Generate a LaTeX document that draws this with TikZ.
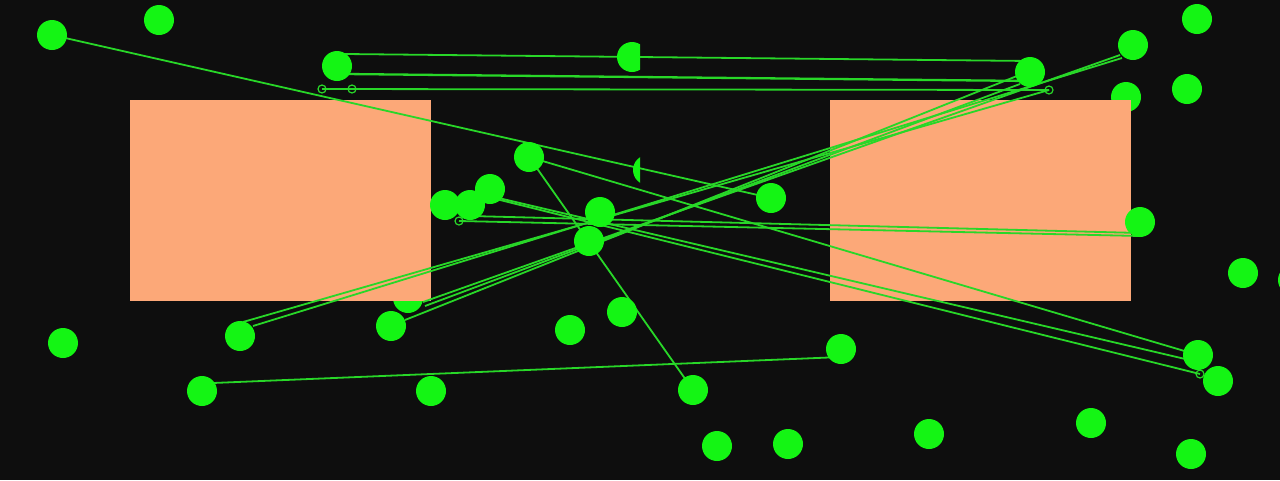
\documentclass[tikz,border=0pt]{standalone}
\definecolor{bg}{RGB}{14,14,14}
\definecolor{dotg}{RGB}{20,245,20}
\definecolor{lineg}{RGB}{40,215,40}
\definecolor{peach}{RGB}{252,168,120}
\newcommand\mylinks{%
  \draw[link] (345,54) -- (1030,61);
  \draw[link,line width=2.3pt] (345,74) -- (1030,81);
  \draw[link] (322,89) -- (1049,90);
  \draw[link] (52,35) -- (771,198);
  \draw[link] (529,157) -- (1198,355);
  \draw[link] (529,157) -- (693,390);
  \draw[link] (490,196) -- (1198,362);
  \draw[link] (480,195) -- (1200,374);
  \draw[link] (470,216) -- (1140,233);
  \draw[link] (459,221) -- (1140,236);
  \draw[link] (213,383) -- (841,357);
  \draw[link] (243,322) -- (1049,90);
  \draw[link] (253,326) -- (1122,58);
  \draw[link] (423,302) -- (1120,55);
  \draw[link] (425,306) -- (1020,84);
  \draw[link] (405,320) -- (1017,76);
}
\begin{document}
\begin{tikzpicture}[x=1pt,y=-1pt,
  dot/.style={fill=dotg},
  link/.style={draw=lineg,line width=1.8pt},
  ring/.style={draw=lineg,line width=1.2pt},
  panel/.style={fill=peach}]
\fill[bg] (0,0) rectangle (1280,480);
\useasboundingbox (0,0) rectangle (1280,480);
\clip (0,0) rectangle (1280,480);
% connectors
\mylinks
% dots partly hidden behind panels
\fill[dot] (1126,97) circle (15);
\fill[dot] (408,298) circle (15);
% panels
\fill[panel] (130,100) rectangle (431,301);
\fill[panel] (830,100) rectangle (1131,301);
% dots
\foreach \p in {(52,35),(159,20),(337,66),(1030,72),(1133,45),(1197,19),(1187,89),
  (529,157),(490,189),(470,205),(445,205),(600,212),(589,241),(771,198),(1140,222),
  (1243,273),(1293,280),(391,326),(240,336),(63,343),(570,330),(622,312),(841,349),
  (202,391),(431,391),(693,390),(717,446),(788,444),(929,434),(1091,423),(1191,454),
  (1198,355),(1218,381)}
  \fill[dot] \p circle (15);
\begin{scope}
  \clip (600,30) rectangle (640,90);
  \fill[dot] (632,57) circle (15);
\end{scope}
\begin{scope}
  \clip (620,150) rectangle (640,190);
  \fill[dot] (648,170) circle (15);
\end{scope}
% connectors crossing the panels
\begin{scope}
  \clip (130,100) rectangle (431,301) (830,100) rectangle (1131,301);
  \mylinks
\end{scope}
% small rings
\foreach \p in {(322,89),(352,89),(1049,90),(459,221),(1200,374)}
  \draw[ring] \p circle (4);
\end{tikzpicture}
\end{document}
